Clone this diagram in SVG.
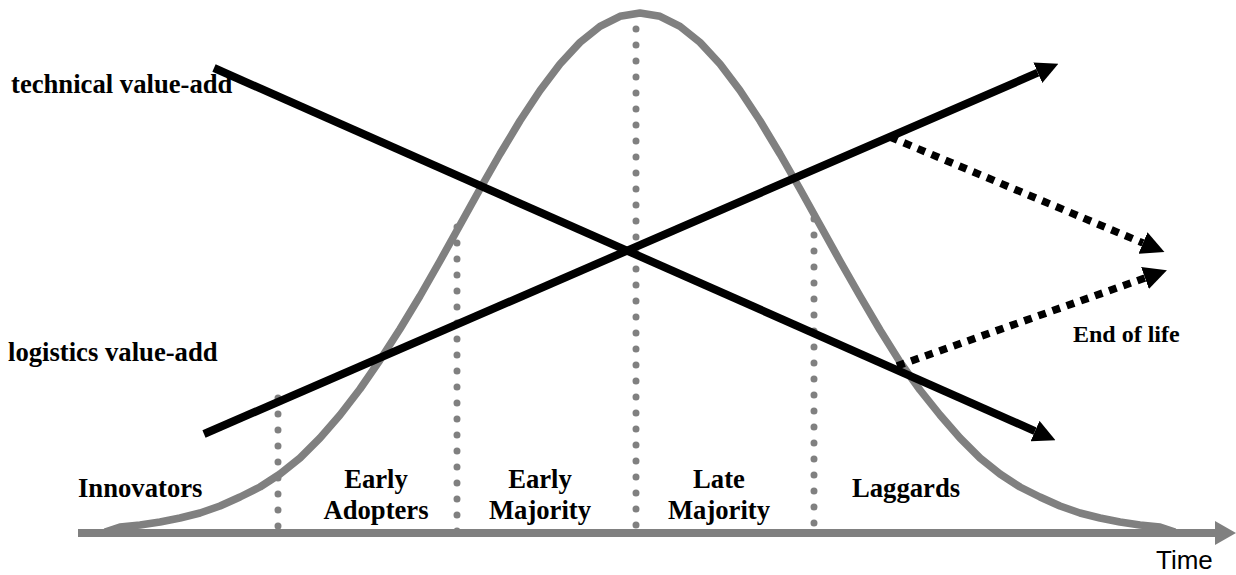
<svg xmlns="http://www.w3.org/2000/svg" width="1236" height="575" viewBox="0 0 1236 575">
<style>
.lbl{font-family:"Liberation Serif","Times New Roman",serif;font-weight:bold;font-size:26.67px;fill:#000}
.small{font-size:24px}
.time{font-family:"Liberation Sans",Arial,sans-serif;font-size:26px;fill:#000}
.gray{fill:none;stroke:#808080;stroke-width:7.5;stroke-linejoin:round}
.dots{fill:none;stroke:#808080;stroke-width:7;stroke-linecap:round;stroke-dasharray:0 16}
.solid{fill:none;stroke:#000;stroke-width:8}
.dash{fill:none;stroke:#000;stroke-width:7.5;stroke-dasharray:8 7}
</style>
<defs>
<marker id="ah" viewBox="0 0 10 10" refX="0" refY="5" markerWidth="2.8" markerHeight="2.8" orient="auto" markerUnits="strokeWidth">
<path d="M0,0 L10,5 L0,10 z" fill="#000"/>
</marker>
<marker id="ahd" viewBox="0 0 10 10" refX="0" refY="5" markerWidth="3.1" markerHeight="3.1" orient="auto" markerUnits="strokeWidth">
<path d="M0,0 L10,5 L0,10 z" fill="#000"/>
</marker>
</defs>
<rect width="1236" height="575" fill="#fff"/>
<g id="axis">
<line x1="78" y1="533" x2="1217" y2="533" stroke="#808080" stroke-width="8"/>
<polygon points="1215,521 1236,533 1215,545" fill="#808080"/>
<text class="time" x="1156" y="569">Time</text>
</g>
<g id="bell-curve">
<polyline class="gray" points="105,532 120,527 140,525 160,522 180,518 200,513 220,506 240,497 260,487 280,474 300,458 320,438 340,415 360,389 380,360 400,329 420,296 440,261 460,225 480,189 500,154 520,120.8 540,90.5 560,64 580,42.4 600,26.3 620,16.3 640,13 660,16.3 680,26.3 700,42.4 720,64 740,90.5 760,120.8 780,154 800,189 820,225 840,261 860,296 880,330 900,362 920,390 940,415 960,438 980,458 1000,474 1020,487 1040,497 1060,506 1080,513 1100,518 1120,522 1140,525 1160,527 1175,532"/>
</g>
<g id="dividers">
<line class="dots" x1="278" y1="398" x2="278" y2="527"/>
<line class="dots" x1="457" y1="227" x2="457" y2="532"/>
<line class="dots" x1="636" y1="29" x2="636" y2="526"/>
<line class="dots" x1="814" y1="219" x2="814" y2="524"/>
</g>
<g id="connectors">
<line class="solid" x1="214" y1="68" x2="1035" y2="431.1" marker-end="url(#ah)"/>
<line class="solid" x1="204" y1="434" x2="1037.8" y2="72.7" marker-end="url(#ah)"/>
<line class="dash" x1="890" y1="137" x2="1143" y2="243" marker-end="url(#ahd)"/>
<line class="dash" x1="897" y1="366" x2="1145" y2="278" marker-end="url(#ahd)"/>
</g>
<g id="label-technical"><text class="lbl" x="11" y="93">technical value-add</text></g>
<g id="label-logistics"><text class="lbl" x="8" y="361">logistics value-add</text></g>
<g id="label-innovators"><text class="lbl" x="78" y="497">Innovators</text></g>
<g id="label-early-adopters"><text class="lbl" text-anchor="middle"><tspan x="376" y="488">Early</tspan><tspan x="376" y="519">Adopters</tspan></text></g>
<g id="label-early-majority"><text class="lbl" text-anchor="middle"><tspan x="540" y="488">Early</tspan><tspan x="540" y="519">Majority</tspan></text></g>
<g id="label-late-majority"><text class="lbl" text-anchor="middle"><tspan x="719" y="488">Late</tspan><tspan x="719" y="519">Majority</tspan></text></g>
<g id="label-laggards"><text class="lbl" x="852" y="497">Laggards</text></g>
<g id="label-end-of-life"><text class="lbl small" x="1073" y="342">End of life</text></g>
</svg>
